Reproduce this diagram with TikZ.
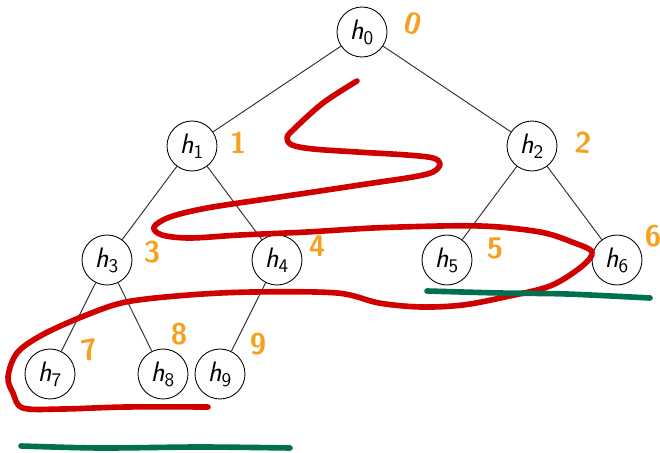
\documentclass[tikz,border=0pt]{standalone}
\usetikzlibrary{positioning}
\definecolor{penred}{RGB}{208,0,0}
\definecolor{pengreen}{RGB}{0,112,80}
\definecolor{idxorange}{RGB}{245,160,32}
\newcommand{\hh}[1]{\textit{h}$_{\mathsf{#1}}$}

\begin{document}
\begin{tikzpicture}[
  x=0.02cm, y=-0.02cm,
  heap/.style={draw, circle, line width=0.5pt, minimum size=1cm, inner sep=0pt,
    font=\fontsize{16}{19}\selectfont\sffamily},
  edge/.style={draw=black!80, line width=0.55pt},
  idx/.style={text=idxorange, font=\fontsize{17}{20}\selectfont\sffamily\bfseries},
  redpen/.style={draw=penred, line width=3.2pt, line cap=round, line join=round},
  greenpen/.style={draw=pengreen, line width=3.2pt, line cap=round}
]
\useasboundingbox (0,0) rectangle (660,453);
\clip (0,0) rectangle (660,453);

% heap nodes
\node[heap] (h0) at (362,32) {\hh{0}};
\node[heap] (h1) at (192,146) {\hh{1}};
\node[heap] (h2) at (532,146) {\hh{2}};
\node[heap] (h3) at (107,260) {\hh{3}};
\node[heap] (h4) at (277,260) {\hh{4}};
\node[heap] (h5) at (447,260) {\hh{5}};
\node[heap] (h6) at (617,260) {\hh{6}};
\node[heap] (h7) at (50,374) {\hh{7}};
\node[heap] (h8) at (163,374) {\hh{8}};
\node[heap] (h9) at (220,374) {\hh{9}};

\draw[edge] (h0) -- (h1);
\draw[edge] (h0) -- (h2);
\draw[edge] (h1) -- (h3);
\draw[edge] (h1) -- (h4);
\draw[edge] (h2) -- (h5);
\draw[edge] (h2) -- (h6);
\draw[edge] (h3) -- (h7);
\draw[edge] (h3) -- (h8);
\draw[edge] (h4) -- (h9);

% array indices
\node[idx, rotate=-15] (i0) at (413,24) {0};
\node[idx] (i1) at (238,143) {1};
\node[idx, rotate=-5] (i2) at (583,143) {2};
\node[idx] (i3) at (152,252) {3};
\node[idx] (i4) at (317,246) {4};
\node[idx] (i5) at (495,248) {5};
\node[idx] (i6) at (653,236) {6};
\node[idx, rotate=10] (i7) at (90,350) {7};
\node[idx] (i8) at (179,334) {8};
\node[idx] (i9) at (258,344) {9};

% level order walk
\draw[redpen] plot[smooth, tension=0.55] coordinates {
  (357,81) (323,103) (293,130) (287,138) (292,145) (313,149) (357,152)
  (407,155) (433,158) (440,164) (433,172) (413,177) (373,183) (320,191)
  (273,198) (207,208) (170,217) (154,227) (162,235) (190,238) (240,235)
  (307,232) (373,228) (440,226) (480,226) (510,228) (545,233) (572,242)
  (592,252) (581,267) (550,286) (505,297) (463,305) (421,307) (379,303)
  (337,293) (253,292) (189,295) (126,302) (84,316) (42,335) (17,353)
  (8,377) (13,393) (23,408) (63,409) (126,407) (208,407)};

% levels
\draw[greenpen] plot[smooth] coordinates {(427,291) (500,293) (567,294) (650,298)};
\draw[greenpen] plot[smooth] coordinates {(21,446) (100,448) (200,447) (290,448)};
\end{tikzpicture}
\end{document}
